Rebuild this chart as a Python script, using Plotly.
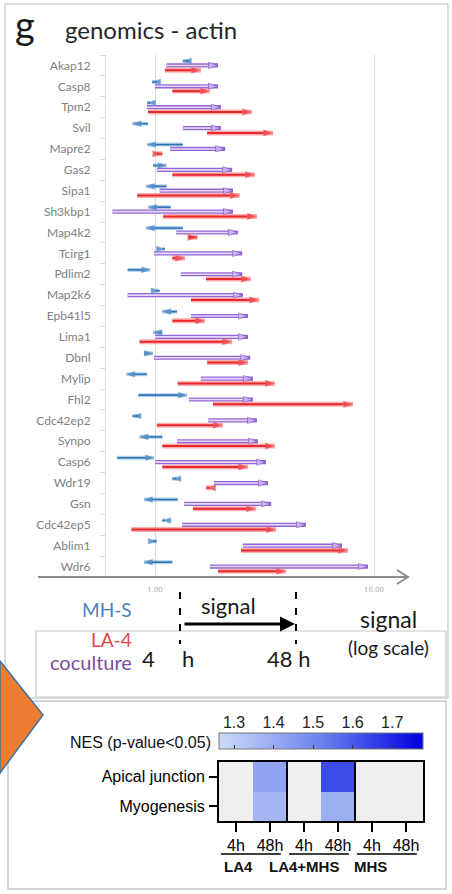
import plotly.graph_objects as go

W, H = 452, 894

genes = ["Akap12", "Casp8", "Tpm2", "Svil", "Mapre2", "Gas2", "Sipa1", "Sh3kbp1",
         "Map4k2", "Tcirg1", "Pdlim2", "Map2k6", "Epb41l5", "Lima1", "Dbnl", "Mylip",
         "Fhl2", "Cdc42ep2", "Synpo", "Casp6", "Wdr19", "Gsn", "Cdc42ep5", "Ablim1", "Wdr6"]

# MH-S (blue): signal at 4 h -> 48 h
mhs_4h = [1.42, 1.02, 0.95, 0.93, 1.34, 0.98, 1.13, 1.18, 1.34, 1.08, 0.75, 1.01, 1.26,
          1.08, 0.89, 0.92, 0.84, 0.84, 1.08, 0.67, 1.25, 1.27, 1.11, 0.98, 1.20]
mhs_48h = [1.34, 0.97, 0.92, 0.79, 0.92, 1.13, 0.91, 0.93, 0.91, 1.11, 0.95, 1.05, 1.08,
           0.98, 0.98, 0.74, 1.40, 0.79, 0.85, 0.99, 1.20, 0.89, 1.08, 1.02, 0.89]
# LA-4 (red)
la4_4h = [1.11, 1.20, 0.93, 1.73, 1.02, 1.20, 0.83, 1.09, 1.43, 1.20, 1.71, 1.46, 1.20,
          0.85, 1.73, 1.27, 1.84, 1.02, 1.08, 1.08, 1.78, 1.49, 0.78, 2.47, 1.94]
la4_48h = [1.62, 1.78, 2.77, 3.46, 1.08, 2.86, 2.44, 2.92, 1.56, 1.37, 2.74, 2.99, 1.69,
           2.25, 2.66, 3.53, 8.02, 2.04, 3.53, 2.66, 1.71, 2.89, 3.57, 7.61, 3.96]
# coculture (purple)
co_4h = [1.13, 1.00, 0.92, 1.34, 1.17, 1.02, 1.05, 0.64, 1.25, 0.99, 1.31, 0.75, 1.46,
         1.00, 0.99, 1.62, 1.43, 1.75, 1.26, 1.00, 1.86, 1.36, 1.33, 2.52, 1.78]
co_48h = [1.94, 1.94, 2.00, 2.00, 2.09, 2.25, 2.27, 2.27, 2.39, 2.50, 2.50, 2.52, 2.66,
          2.66, 2.72, 2.80, 2.80, 2.92, 2.95, 3.21, 3.28, 3.39, 4.89, 7.14, 9.39]

x_tickvals = [1, 10]
x_ticktext = ["1.00", "10.00"]

# NES heatmap
nes_rows = ["Apical junction", "Myogenesis"]
nes_cols = ["4h", "48h", "4h", "48h", "4h", "48h"]
nes_groups = ["LA4", "LA4+MHS", "MHS"]
nes_vals = [[None, 1.42, None, 1.63, None, None],
            [None, 1.37, None, 1.39, None, None]]
nes_ticks = [1.3, 1.4, 1.5, 1.6, 1.7]
nes_min, nes_max = 1.262, 1.778


def X(p):
    return p / W


def Y(p):
    return 1 - p / H


LOGL = (106 - 155) / 219
LOGR = (400 - 155) / 219

fig = go.Figure()


def arrow_traces(starts, ends, off, halo_col, halo_w, core_col, core_w,
                 head_fill, head_line, head_size):
    xs, ys, sz = [], [], []
    for i, (s, e) in enumerate(zip(starts, ends)):
        xs += [s, e, None]
        ys += [i + off, i + off, None]
        sz += [0, head_size, 0]
    fig.add_trace(go.Scatter(x=xs, y=ys, mode="lines", line=dict(color=halo_col, width=halo_w),
                             hoverinfo="skip", connectgaps=False))
    fig.add_trace(go.Scatter(x=xs, y=ys, mode="lines+markers",
                             line=dict(color=core_col, width=core_w),
                             marker=dict(symbol="arrow", angleref="previous", size=sz,
                                         color=head_fill, line=dict(color=head_line, width=1)),
                             hoverinfo="skip", connectgaps=False))


arrow_traces(co_4h, co_48h, 0.0, "#9467d6", 4.2, "#e6d9fa", 1.6, "#e2d3f8", "#8a5cd0", 10)
arrow_traces(la4_4h, la4_48h, 0.23, "rgba(245,110,110,0.55)", 5, "#e8262d", 2.0,
             "#e8262d", "rgba(245,110,110,0.7)", 10)
arrow_traces(mhs_4h, mhs_48h, -0.21, "rgba(90,150,210,0.45)", 4, "#2e75b6", 1.6,
             "#2e75b6", "rgba(90,150,210,0.6)", 9)

# heatmap background (non-significant cells)
fig.add_trace(go.Heatmap(z=[[0] * 6, [0] * 6], x=list(range(6)), y=[0, 1],
                         colorscale=[[0, "#efefef"], [1, "#efefef"]], showscale=False,
                         hoverinfo="skip", xaxis="x2", yaxis="y2"))
fig.add_trace(go.Heatmap(
    z=nes_vals, x=list(range(6)), y=[0, 1], zmin=nes_min, zmax=nes_max,
    colorscale=[[0, "#cddbf7"], [0.5, "#6b82ee"], [1, "#0000e0"]],
    xaxis="x2", yaxis="y2", hoverinfo="skip",
    colorbar=dict(orientation="h", x=X(219), xanchor="left", y=Y(733), yanchor="top",
                  len=204, lenmode="pixels", thickness=16, thicknessmode="pixels",
                  xpad=0, ypad=0, outlinewidth=1, outlinecolor="#777",
                  tickvals=nes_ticks, ticks="inside", ticklen=4, tickcolor="#333",
                  showticklabels=False)))
# dummy trace to carry the colorbar tick-label axis
fig.add_trace(go.Scatter(x=[], y=[], xaxis="x3", yaxis="y3", hoverinfo="skip"))

lbl_font = dict(family="Lato, sans-serif", size=12, color="#808080")
arial = "Liberation Sans, Arial"

fig.update_layout(
    width=W, height=H, margin=dict(l=0, r=0, t=0, b=0),
    paper_bgcolor="white", plot_bgcolor="white", showlegend=False, hovermode=False,
    xaxis=dict(type="log", domain=[X(106), X(400)], range=[LOGL, LOGR],
               tickvals=x_tickvals, ticktext=x_ticktext, showgrid=True, gridcolor="#d9d9d9",
               gridwidth=1, showline=False, zeroline=False, ticks="",
               tickfont=dict(family="DejaVu Serif", size=7, color="#aaaaaa"),
               ticklabelstandoff=7, anchor="y"),
    yaxis=dict(domain=[Y(577), Y(55)], range=[24.5, -0.5], tickvals=list(range(len(genes))),
               ticktext=genes, tickfont=lbl_font, showgrid=False, zeroline=False,
               showline=True, linecolor="#d9d9d9", linewidth=1, ticks="", ticklabelstandoff=12,
               minor=dict(tick0=-0.5, dtick=1, ticks="outside", ticklen=5, tickcolor="#d9d9d9"),
               anchor="x"),
    xaxis2=dict(domain=[X(219), X(423)], range=[-0.5, 5.5], tickvals=list(range(6)),
                ticktext=nes_cols, ticks="outside", ticklen=9, tickwidth=2, tickcolor="black",
                showline=True, mirror=True, linecolor="black", linewidth=2, showgrid=False,
                zeroline=False, anchor="y2", ticklabelstandoff=0,
                tickfont=dict(family=arial, size=16, color="black")),
    yaxis2=dict(domain=[Y(821), Y(762)], range=[1.5, -0.5], tickvals=[0, 1], ticktext=nes_rows,
                ticks="outside", ticklen=8, tickwidth=2, tickcolor="black", showline=True,
                mirror=True, linecolor="black", linewidth=2, showgrid=False, zeroline=False,
                anchor="x2", ticklabelstandoff=1, tickfont=dict(family=arial, size=16, color="black")),
    xaxis3=dict(domain=[X(219), X(423)], range=[nes_min, nes_max], tickvals=nes_ticks,
                ticktext=[f"{v:.1f}" for v in nes_ticks], side="top", ticks="", showline=False,
                showgrid=False, zeroline=False, anchor="y3", ticklabelstandoff=1,
                tickfont=dict(family=arial, size=16, color="#222")),
    yaxis3=dict(domain=[Y(749), Y(733)], range=[0, 1], visible=False, anchor="x3"),
)

shapes = []
# panel borders
shapes.append(dict(type="rect", xref="paper", yref="paper", x0=X(5), x1=X(448), y0=Y(698), y1=Y(4),
                   line=dict(color="#cfcfcf", width=1.5), fillcolor="rgba(0,0,0,0)", layer="below"))
shapes.append(dict(type="rect", xref="paper", yref="paper", x0=X(36), x1=X(446), y0=Y(697), y1=Y(631),
                   line=dict(color="#c8c8c8", width=1.2), fillcolor="white", layer="below"))
shapes.append(dict(type="rect", xref="paper", yref="paper", x0=X(8), x1=X(446), y0=Y(889), y1=Y(701),
                   line=dict(color="#c8c8c8", width=1.5), fillcolor="white", layer="below"))
# main axis arrow
shapes.append(dict(type="line", xref="paper", yref="paper", x0=X(38), x1=X(407), y0=Y(577), y1=Y(577),
                   line=dict(color="#8c8c8c", width=2), layer="above"))
shapes.append(dict(type="path", xref="paper", yref="paper",
                   path=f"M{X(397)},{Y(570)} L{X(408)},{Y(577)} L{X(397)},{Y(584)}",
                   line=dict(color="#8c8c8c", width=2), layer="above"))
# dashed time markers
for xx in (180, 296):
    shapes.append(dict(type="line", xref="paper", yref="paper", x0=X(xx), x1=X(xx), y0=Y(592), y1=Y(644),
                       line=dict(color="black", width=2, dash="7px,9px"), layer="above"))
# heatmap group separators
for xx in (1.5, 3.5):
    shapes.append(dict(type="line", xref="x2", yref="y2", x0=xx, x1=xx, y0=-0.5, y1=1.5,
                       line=dict(color="black", width=2), layer="above"))
# group underlines
for g in range(3):
    shapes.append(dict(type="line", xref="x2", yref="paper", x0=2 * g - 0.44, x1=2 * g + 1.32,
                       y0=Y(854), y1=Y(854), line=dict(color="black", width=1.5)))
# orange chevron
shapes.append(dict(type="path", xref="paper", yref="paper",
                   path=f"M{X(0)},{Y(661)} L{X(43)},{Y(715)} L{X(0)},{Y(773)} Z",
                   fillcolor="#ED7D31", line=dict(color="#41719C", width=1.5), layer="above"))
fig.update_layout(shapes=shapes)

ann = []


def txt(t, x, y, size, color="#1a1a1a", xanchor="center", family="Lato, sans-serif", bold=False):
    ann.append(dict(text=(f"<b>{t}</b>" if bold else t), x=X(x), y=Y(y), xref="paper", yref="paper",
                    showarrow=False, xanchor=xanchor, yanchor="middle",
                    font=dict(family=family, size=size, color=color)))


txt("g", 13, 24, 38, xanchor="left")
txt("genomics - actin", 63, 29, 24, color="#262626", xanchor="left")
txt("MH-S", 134, 609, 19, color="#4f81bd", xanchor="right")
txt("LA-4", 134, 639, 19, color="#e04848", xanchor="right")
txt("coculture", 134, 662, 20, color="#7a4f9a", xanchor="right")
txt("signal", 228, 605, 22)
txt("4", 148, 658, 22)
txt("h", 188, 658, 22)
txt("48 h", 288, 658, 22)
txt("signal", 388, 619, 23)
txt("(log scale)", 388, 647, 19)
txt("NES (p-value&lt;0.05)", 213, 742, 16, color="#111", xanchor="right", family=arial)
txt("LA4", 222, 866, 15, color="#111", xanchor="left", family=arial, bold=True)
txt("LA4+MHS", 267, 866, 15, color="#111", xanchor="left", family=arial, bold=True)
txt("MHS", 352, 866, 15, color="#111", xanchor="left", family=arial, bold=True)

# black "signal" arrow
ann.append(dict(text="", x=X(295), y=Y(624), xref="paper", yref="paper", showarrow=True,
                ax=-112, ay=0, arrowhead=2, arrowwidth=3, arrowsize=1, arrowcolor="black"))

fig.update_layout(annotations=ann)
fig.write_html("out.html", config={"displayModeBar": False},
               post_script="document.body.style.margin='0';document.body.style.overflow='hidden';")
